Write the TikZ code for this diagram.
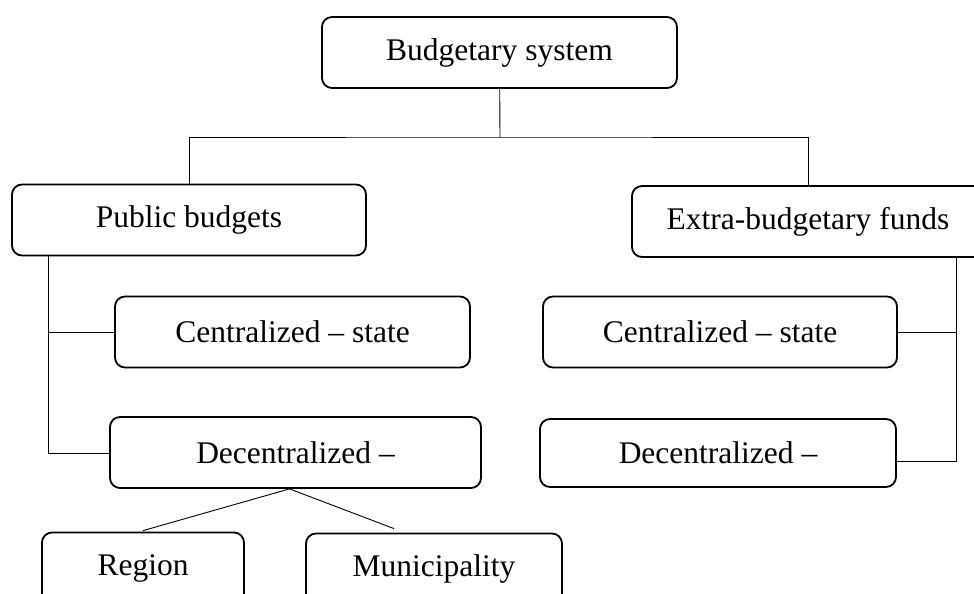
\documentclass[tikz,border=0pt]{standalone}
\usepackage{fontspec}
\setmainfont{Liberation Serif}
\begin{document}
\begin{tikzpicture}[x=1pt,y=-1pt,
  box/.style={draw, line width=1.8pt, rounded corners=10pt, inner sep=0pt,
    minimum height=71pt, font=\fontsize{31.5}{36}\selectfont},
  link/.style={line width=0.9pt}]
\useasboundingbox (0,0) rectangle (974,594);
% boxes
\node[box, minimum width=355pt] (top)   at (499.5,52.5) {Budgetary system};
\node[box, minimum width=354pt] (pub)   at (189,220)    {Public budgets};
\node[box, minimum width=352pt] (extra) at (808,221.5)  {Extra-budgetary funds};
\node[box, minimum width=355pt] (cL)    at (292.5,332)  {Centralized – state};
\node[box, minimum width=371pt] (dL)    at (295.5,452.5){Decentralized –};
\node[box, minimum width=354pt] (cR)    at (720,332)    {Centralized – state};
\node[box, minimum width=356pt, minimum height=68pt] (dR) at (718,453) {Decentralized –};
\node[box, minimum width=202pt] (reg)   at (143,568)    {Region};
\node[box, minimum width=256pt] (mun)   at (434,569)    {Municipality};
% junctions
\coordinate (j)  at (500,137);
\coordinate (ls) at (48,453);
\coordinate (rs) at (956,461);
% top level tree
\draw[link] (top) -- (j);
\draw[link] (pub.north) |- (j) -| (extra.north);
% left spine
\draw[link] (ls |- pub.south) -- (ls) -- (dL.west |- ls);
\draw[link] (cL.west) -- (cL.west -| ls);
% right spine
\draw[link] (rs |- extra.south) -- (rs) -- (dR.east |- rs);
\draw[link] (cR.east) -- (cR.east -| rs);
% decentralized branches
\draw[link] ([xshift=-6pt]dL.south) -- ([yshift=1pt]reg.north);
\draw[link] ([xshift=-6pt]dL.south) -- ([xshift=-40pt,yshift=4pt]mun.north);
\end{tikzpicture}
\end{document}
